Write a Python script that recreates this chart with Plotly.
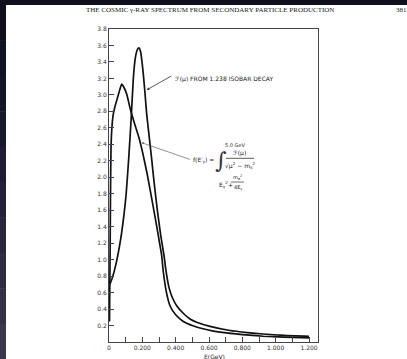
import plotly.graph_objects as go

# ---------------- data ----------------
curve_f_x = [0.003, 0.005, 0.007, 0.009, 0.012, 0.018, 0.026, 0.036, 0.046, 0.060, 0.076,
             0.090, 0.106, 0.130, 0.155, 0.180, 0.205, 0.230, 0.260, 0.285, 0.302, 0.316,
             0.326, 0.345, 0.366, 0.400, 0.446, 0.500, 0.546, 0.620, 0.706, 0.800, 0.926,
             1.050, 1.200]
curve_f_y = [0.25, 0.70, 1.20, 1.80, 2.35, 2.62, 2.77, 2.86, 2.93, 3.03, 3.13,
             3.09, 3.01, 2.81, 2.64, 2.48, 2.27, 2.03, 1.70, 1.42, 1.22, 1.05,
             0.85, 0.60, 0.44, 0.33, 0.25, 0.20, 0.17, 0.135, 0.11, 0.09, 0.07,
             0.06, 0.05]

curve_F_x = [0.005, 0.020, 0.040, 0.070, 0.090, 0.103, 0.118, 0.133, 0.146, 0.158, 0.170,
             0.180, 0.190, 0.198, 0.206, 0.216, 0.226, 0.243, 0.256, 0.270, 0.290, 0.310,
             0.330, 0.343, 0.360, 0.380, 0.406, 0.450, 0.486, 0.526, 0.606, 0.726, 0.830,
             0.926, 1.050, 1.200]
curve_F_y = [0.70, 0.78, 0.93, 1.25, 1.55, 1.80, 2.22, 2.71, 3.20, 3.45, 3.55,
             3.57, 3.52, 3.40, 3.25, 3.02, 2.77, 2.46, 2.22, 1.95, 1.60, 1.30,
             1.05, 0.85, 0.66, 0.54, 0.44, 0.34, 0.28, 0.24, 0.19, 0.14, 0.115,
             0.097, 0.08, 0.07]

y_tickvals = [0.2 * i for i in range(1, 20)]
y_ticktext = ["0.2", "0.4", "0.6", "0.8", "1.0", "1.2", "1.4", "1.6", "1.8", "2.0",
              "2.2", "2.4", "2.6", "2.8", "3.0", "3.2", "3.4", "3.6", "3.8"]
x_tickvals = [0.1 * i for i in range(0, 13)]
x_ticktext = ["0", "", "0.200", "", "0.400", "", "0.600", "", "0.800", "", "1.000", "", "1.200"]

# ---------------- layout geometry (pixels) ----------------
W, H = 407, 359
L, R, T, B = 109, 318, 29, 342


def px(x):
    return (x - L) / (R - L)


def py(y):
    return (B - y) / (B - T)


fig = go.Figure()
fig.add_trace(go.Scatter(x=curve_f_x, y=curve_f_y, mode="lines",
                         line=dict(color="#111", width=1.7, shape="spline", smoothing=0.5),
                         hoverinfo="skip", showlegend=False))
fig.add_trace(go.Scatter(x=curve_F_x, y=curve_F_y, mode="lines",
                         line=dict(color="#111", width=1.7, shape="spline", smoothing=0.5),
                         hoverinfo="skip", showlegend=False))

tickfont = dict(family="DejaVu Sans", size=6, color="#333")
fig.update_xaxes(range=[0, 1.254], tickvals=x_tickvals, ticktext=x_ticktext,
                 ticks="inside", ticklen=5, tickwidth=1, tickcolor="#444",
                 showline=True, linecolor="#444", linewidth=1, mirror=True,
                 showgrid=False, zeroline=False, tickfont=tickfont, automargin=False)
fig.update_yaxes(range=[0, 3.8], tickvals=y_tickvals, ticktext=y_ticktext,
                 ticks="inside", ticklen=5, tickwidth=1, tickcolor="#444",
                 showline=True, linecolor="#444", linewidth=1, mirror=True,
                 showgrid=False, zeroline=False, tickfont=tickfont, automargin=False)

shapes = []
# dark scan border: top band and left gradient strip
shapes.append(dict(type="rect", xref="paper", yref="paper", x0=px(0), x1=px(W), y0=py(5), y1=py(0),
                   fillcolor="#0f0f1d", line=dict(width=0), layer="above"))
strip_cols = ["#0f0f1d", "#111223", "#141528", "#18182d", "#1d1c32", "#222137",
              "#27263b", "#2d2c40", "#333244", "#393848"]
n = len(strip_cols)
for i, c in enumerate(strip_cols):
    y0 = 5 + (H - 5) * i / n
    y1 = 5 + (H - 5) * (i + 1) / n
    shapes.append(dict(type="rect", xref="paper", yref="paper", x0=px(0), x1=px(6),
                       y0=py(y1 + 0.5), y1=py(y0), fillcolor=c, line=dict(width=0), layer="above"))
# fraction bars in the formula
shapes.append(dict(type="line", xref="paper", yref="paper", x0=px(226), x1=px(254),
                   y0=py(158.3), y1=py(158.3), line=dict(color="#333", width=0.8)))
shapes.append(dict(type="line", xref="paper", yref="paper", x0=px(231), x1=px(244),
                   y0=py(182), y1=py(182), line=dict(color="#333", width=0.7)))
fig.update_layout(shapes=shapes)

ann = []


def text(x, y, s, size=6, xanchor="center", family="DejaVu Sans", color="#222"):
    ann.append(dict(xref="paper", yref="paper", x=px(x), y=py(y), text=s, showarrow=False,
                    xanchor=xanchor, yanchor="middle", font=dict(family=family, size=size, color=color)))


text(210, 9.5, "THE COSMIC γ-RAY SPECTRUM FROM SECONDARY PARTICLE PRODUCTION", size=7,
     family="Liberation Serif", color="#222")
text(401, 9.5, "381", size=7, family="Liberation Serif", color="#222")

text(173, 78.5, "ℱ(μ) FROM 1.238 ISOBAR DECAY", size=6, xanchor="left")
text(191, 160, "f(E′<sub>γ</sub>) =", size=6, xanchor="left")
text(221, 160, "∫", size=22, family="DejaVu Serif", color="#333")
text(223, 145, "5.0 GeV", size=5, xanchor="left")
text(239, 152.5, "ℱ(μ)", size=6)
text(240, 165, "√μ<sup>2</sup> − m<sub>π</sub><sup>2</sup>", size=6)
text(216.5, 184, "E<sub>γ</sub><sup>2</sup>+", size=6, xanchor="left")
text(237.5, 177, "m<sub>π</sub><sup>2</sup>", size=5)
text(237.5, 187, "4E<sub>γ</sub>", size=5)
text(214, 356, "E(GeV)", size=6)

# pointer lines with small arrowheads
ann.append(dict(xref="x", yref="y", axref="x", ayref="y", x=0.226, y=3.06, ax=0.383, ay=3.24,
                text="", showarrow=True, arrowhead=2, arrowsize=0.7, arrowwidth=0.8, arrowcolor="#333"))
ann.append(dict(xref="x", yref="y", axref="x", ayref="y", x=0.196, y=2.42, ax=0.495, ay=2.21,
                text="", showarrow=True, arrowhead=2, arrowsize=0.7, arrowwidth=0.6, arrowcolor="#444"))

fig.update_layout(annotations=ann, width=W, height=H,
                  margin=dict(l=L, r=W - R, t=T, b=H - B, pad=0),
                  paper_bgcolor="white", plot_bgcolor="white")

fig.write_html("out.html")
